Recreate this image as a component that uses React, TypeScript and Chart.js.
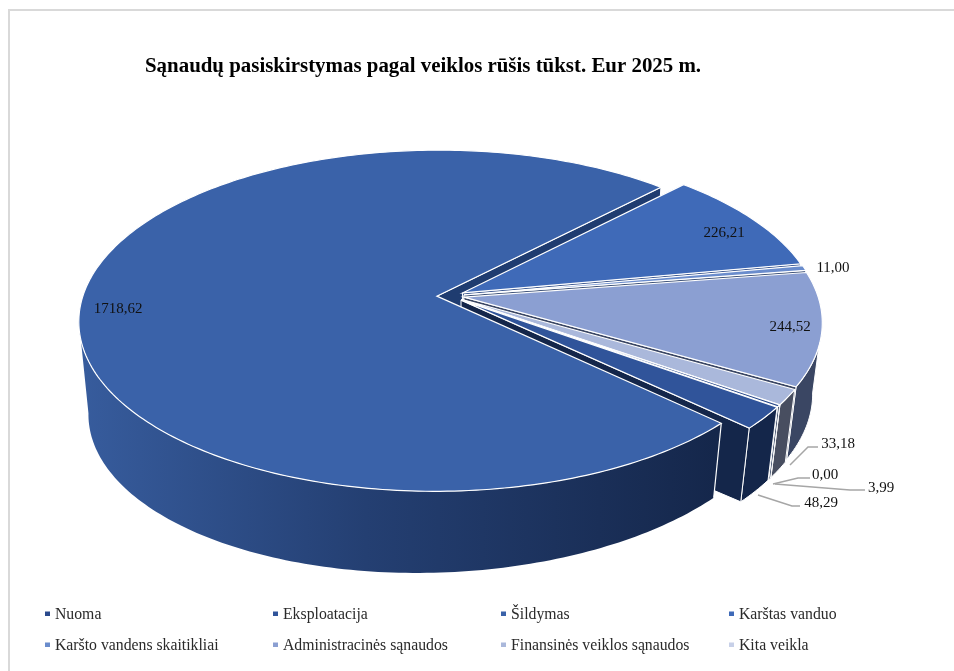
import React, { useEffect, useRef } from "react";
import { Chart, registerables } from "chart.js";

Chart.register(...registerables);

const TITLE = "Sąnaudų pasiskirstymas pagal veiklos rūšis tūkst. Eur 2025 m.";
const categories = ["Nuoma", "Eksploatacija", "Šildymas", "Karštas vanduo", "Karšto vandens skaitikliai", "Administracinės sąnaudos", "Finansinės veiklos sąnaudos", "Kita veikla"];
const values = [3.99, 48.29, 1718.62, 226.21, 11.0, 244.52, 33.18, 0.0];
const topColors = ["#2a4a8c", "#30549a", "#3a62a9", "#3f6ab8", "#6a8ccc", "#8b9fd2", "#aab8db", "#c7d0e8"];
const wallColors = ["#16274a", "#14264a", "#1f3c70", "#2c4a86", "#3f5378", "#3a4663", "#484e60", "#5a6070"];

// Index of the big slice, which is painted last apart from its cut face
const BIG = 2;
const FONT = '"Liberation Serif"';

// Projection of the pie disc onto the page (a tilted view with perspective)
const VIEW = { cx: 450.5, cy: 296, a: 354, b: 167, k: 0.144, m: 0.026, depth: 83, depthV: -2, depthU: -10.4 };
// Rim angles between which the outer wall faces the viewer
const RIM_FROM = (8 * Math.PI) / 180;
const RIM_TO = (172 * Math.PI) / 180;

// Where each value label goes, with its leader line when it has one
const labelPlacement: any[] = [
  { at: [881, 488], leader: [[775, 484], [850, 490], [865, 490]] },
  { at: [821, 503], leader: [[758, 495], [792, 506], [800, 506]] },
  { at: [118, 309] },
  { at: [724, 233] },
  { at: [833, 268] },
  { at: [790, 327] },
  { at: [838, 444], leader: [[790, 465], [808, 447], [818, 447]] },
  { at: [825, 475], leader: [[773, 484], [798, 478], [810, 478]] },
];

const legendColumns = [45, 273, 501, 729];
const legendRows = [614.5, 645.5];

function project(u: number, v: number, d: number): [number, number] {
  const wx = 1 - VIEW.k * v + VIEW.m * d;
  const wy = 1 - VIEW.k * v;
  return [VIEW.cx + (VIEW.a * u) / wx, VIEW.cy + (VIEW.b * v) / wy + d * (VIEW.depth + VIEW.depthV * v + VIEW.depthU * u)];
}

function trace(ctx: CanvasRenderingContext2D, pts: [number, number][]) {
  ctx.beginPath();
  pts.forEach((p, i) => (i ? ctx.lineTo(p[0], p[1]) : ctx.moveTo(p[0], p[1])));
  ctx.closePath();
}

function arcPoints(s: number, e: number, ox: number, oy: number, d: number) {
  const out: [number, number][] = [];
  const steps = Math.max(2, Math.ceil((e - s) / (Math.PI / 180)));
  for (let i = 0; i <= steps; i++) {
    const t = s + ((e - s) * i) / steps;
    out.push(project(ox + Math.cos(t), oy + Math.sin(t), d));
  }
  return out;
}

const pie3d = {
  id: "pie3d",
  beforeDatasetDraw(chart: any) {
    const ctx: CanvasRenderingContext2D = chart.ctx;
    const arcs = chart.getDatasetMeta(0).data;
    const geo = arcs.map((el: any) => {
      const mid = (el.startAngle + el.endAngle) / 2;
      const e = el.options.offset / el.outerRadius;
      return { s: el.startAngle, e: el.endAngle, mid, ox: Math.cos(mid) * e, oy: Math.sin(mid) * e };
    });

    const endWall = (i: number) => {
      const g = geo[i];
      const cu = g.ox + Math.cos(g.e);
      const cv = g.oy + Math.sin(g.e);
      trace(ctx, [project(g.ox, g.oy, 0), project(cu, cv, 0), project(cu, cv, 1), project(g.ox, g.oy, 1)]);
      ctx.fillStyle = wallColors[i];
      ctx.fill();
      ctx.strokeStyle = "#ffffff";
      ctx.lineWidth = 1;
      ctx.stroke();
    };
    const outerWall = (i: number) => {
      const g = geo[i];
      // only the part of the rim turned towards the viewer; angles may run past a full turn
      const turn = g.e > Math.PI * 2 ? Math.PI * 2 : 0;
      const s = Math.max(g.s - turn, RIM_FROM);
      const e = Math.min(g.e - turn, RIM_TO);
      if (e <= s) return;
      const pts = [...arcPoints(s, e, g.ox, g.oy, 0), ...arcPoints(s, e, g.ox, g.oy, 1).reverse()];
      trace(ctx, pts);
      if (i === BIG) {
        const grad = ctx.createLinearGradient(80, 0, 716, 0);
        grad.addColorStop(0, "#375c9d");
        grad.addColorStop(0.45, "#243f72");
        grad.addColorStop(1, "#15274b");
        ctx.fillStyle = grad;
        ctx.fill();
        // white edge where the big slice's rim starts
        const a = project(g.ox + Math.cos(s), g.oy + Math.sin(s), 0);
        const b = project(g.ox + Math.cos(s), g.oy + Math.sin(s), 1);
        ctx.beginPath();
        ctx.moveTo(a[0], a[1]);
        ctx.lineTo(b[0], b[1]);
        ctx.strokeStyle = "#ffffff";
        ctx.lineWidth = 1.2;
        ctx.stroke();
      } else {
        ctx.fillStyle = wallColors[i];
        ctx.fill();
        ctx.strokeStyle = "#ffffff";
        ctx.lineWidth = 1;
        ctx.stroke();
      }
    };
    const top = (i: number) => {
      const g = geo[i];
      trace(ctx, [project(g.ox, g.oy, 0), ...arcPoints(g.s, g.e, g.ox, g.oy, 0)]);
      ctx.fillStyle = topColors[i];
      ctx.fill();
      ctx.strokeStyle = "#ffffff";
      ctx.lineWidth = 1.2;
      ctx.lineJoin = "miter";
      ctx.stroke();
    };

    endWall(BIG);
    [3, 4, 5, 6, 7, 0, 1].forEach((i) => {
      if (values[i] <= 0) return;
      outerWall(i);
      endWall(i);
      top(i);
    });
    outerWall(BIG);
    top(BIG);

    // value labels
    ctx.font = `15px ${FONT}`;
    ctx.textAlign = "center";
    ctx.textBaseline = "middle";
    labelPlacement.forEach((pl, i) => {
      if (pl.leader) {
        ctx.beginPath();
        pl.leader.forEach((p: number[], j: number) => (j ? ctx.lineTo(p[0], p[1]) : ctx.moveTo(p[0], p[1])));
        ctx.strokeStyle = "#a6a6a6";
        ctx.lineWidth = 1.5;
        ctx.stroke();
      }
      ctx.fillStyle = "#111111";
      ctx.fillText(values[i].toFixed(2).replace(".", ","), pl.at[0], pl.at[1]);
    });
    return false;
  },
  afterDraw(chart: any) {
    const ctx: CanvasRenderingContext2D = chart.ctx;
    // frame
    ctx.strokeStyle = "#d9d9d9";
    ctx.lineWidth = 2;
    ctx.strokeRect(9, 10, 1000, 800);
    // legend
    ctx.font = `15.75px ${FONT}`;
    ctx.textAlign = "left";
    ctx.textBaseline = "middle";
    categories.forEach((name, i) => {
      const x = legendColumns[i % 4];
      const y = legendRows[Math.floor(i / 4)];
      ctx.fillStyle = topColors[i];
      ctx.fillRect(x, y - 3, 5, 4.5);
      ctx.fillStyle = "#2a2a2a";
      ctx.fillText(name, x + 10, y);
    });
  },
};

export default function App() {
  const ref = useRef<HTMLCanvasElement>(null);
  useEffect(() => {
    const chart = new Chart(ref.current!, {
      type: "pie",
      data: {
        labels: categories,
        datasets: [{ data: values, backgroundColor: topColors, borderColor: "#ffffff", borderWidth: 1, offset: 11 }],
      },
      options: {
        responsive: false,
        animation: false,
        devicePixelRatio: 1,
        rotation: 125.07,
        layout: { padding: { left: 145 } },
        plugins: {
          legend: { display: false },
          tooltip: { enabled: false },
          title: {
            display: true,
            text: TITLE,
            align: "start",
            color: "#000000",
            font: { family: FONT, size: 20.9, weight: "bold" },
            padding: { top: 54, bottom: 8 },
          },
        },
      },
      plugins: [pie3d],
    } as any);
    return () => chart.destroy();
  }, []);
  return <canvas ref={ref} width={954} height={671} style={{ position: "fixed", left: 0, top: 0, width: 954, height: 671 }} />;
}
